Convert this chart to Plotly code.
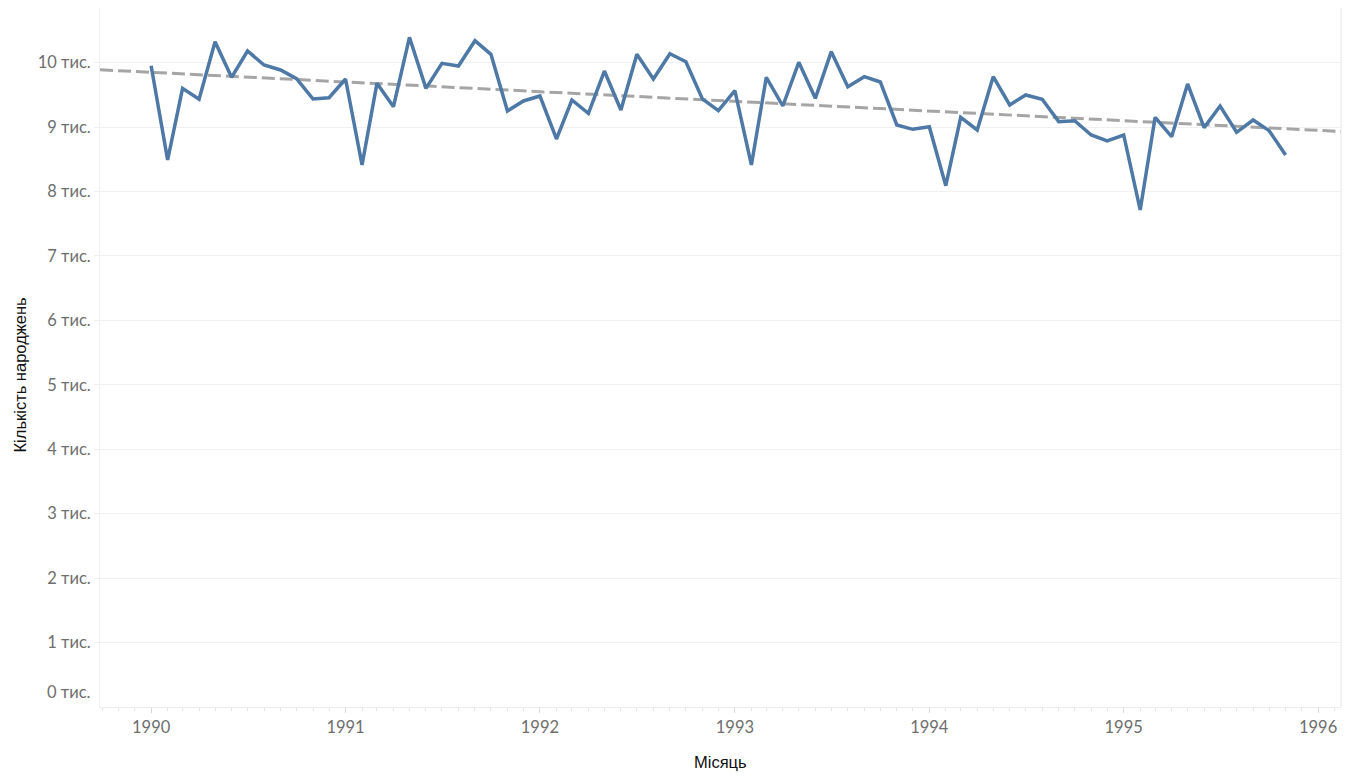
import numpy as np
import pandas as pd
import plotly.graph_objects as go

# monthly births, Jan 1990 .. Nov 1995
months = pd.date_range("1990-01-01", "1995-11-01", freq="MS")
births = [
    9953, 8490, 9602, 9432, 10326, 9773, 10182, 9964, 9887, 9752, 9437, 9457,   # 1990
    9747, 8413, 9680, 9317, 10394, 9602, 9990, 9949, 10341, 10130, 9250, 9406,  # 1991
    9483, 8816, 9421, 9214, 9871, 9266, 10130, 9747, 10140, 10016, 9437, 9256,  # 1992
    9566, 8413, 9773, 9328, 10006, 9447, 10171, 9628, 9783, 9701, 9033, 8966,   # 1993
    9007, 8091, 9152, 8956, 9783, 9344, 9499, 9432, 9085, 9100, 8878, 8785,     # 1994
    8878, 7714, 9152, 8852, 9670, 8992, 9328, 8920, 9111, 8945, 8568,           # 1995
]
y_ticks = [1000, 2000, 3000, 4000, 5000, 6000, 7000, 8000, 9000, 10000]
y_labels = ["1 тис.", "2 тис.", "3 тис.", "4 тис.", "5 тис.", "6 тис.", "7 тис.", "8 тис.", "9 тис.", "10 тис."]
x_range = ["1989-09-27", "1996-02-13"]
y_range = [0, 10849]

# linear trend over the whole axis
t = months.values.astype("datetime64[D]").astype(float)
k, b = np.polyfit(t, births, 1)
trend_x = pd.to_datetime(x_range)
trend_t = trend_x.values.astype("datetime64[D]").astype(float)
trend_y = k * trend_t + b

fig = go.Figure()
fig.add_trace(go.Scatter(
    x=trend_x, y=trend_y, mode="lines",
    line=dict(color="#a5a5a5", width=3, dash="13px,5px"),
    hoverinfo="skip", showlegend=False
))
fig.add_trace(go.Scatter(
    x=months, y=births, mode="lines",
    line=dict(color="#4e79a7", width=3.5),
    showlegend=False
))

tick_font = dict(family="Lato, Open Sans, sans-serif", size=16.5, color="#6e6e6e")
title_font = dict(family="Arial, Liberation Sans, sans-serif", size=16.5, color="#111111")

# page body has an 8px margin, so the figure is kept inside the window
fig.update_layout(
    width=1334, height=768,
    margin=dict(l=92, r=1, t=0, b=69),
    plot_bgcolor="white", paper_bgcolor="white",
    xaxis=dict(
        type="date", range=x_range, automargin=False,
        dtick="M12", tick0="1990-01-01", tickformat="%Y",
        ticks="outside", ticklen=5, tickcolor="#d8d8d8",
        minor=dict(dtick="M1", ticks="outside", ticklen=3, tickcolor="#e4e4e4", showgrid=False),
        showgrid=False, showline=True, linecolor="#ececec", linewidth=1,
        tickfont=tick_font,
        zeroline=False, mirror=False,
    ),
    yaxis=dict(
        range=y_range, tickvals=y_ticks, ticktext=y_labels, automargin=False,
        ticks="outside", ticklen=5, tickcolor="#f0f0f0",
        showgrid=True, gridcolor="#f0f0f0", gridwidth=1,
        showline=True, linecolor="#f0f0f0", linewidth=1,
        zeroline=False, tickfont=tick_font,
    ),
    shapes=[dict(type="line", xref="paper", yref="paper", x0=1, x1=1, y0=0, y1=1,
                 line=dict(color="#e6e6e6", width=1))],
    annotations=[
        dict(text="0 тис.", xref="paper", yref="y", x=0, y=0,
             xanchor="right", yanchor="bottom", xshift=-8, yshift=3,
             showarrow=False, font=tick_font),
        dict(text="Місяць", xref="paper", yref="paper", x=0.5, y=0,
             xanchor="center", yanchor="middle", yshift=-55,
             showarrow=False, font=title_font),
        dict(text="Кількість народжень", xref="paper", yref="paper", x=0, y=0.5,
             xanchor="center", yanchor="middle", xshift=-81, yshift=-18, textangle=-90,
             showarrow=False, font=title_font),
    ],
)

fig.write_html("out.html")
